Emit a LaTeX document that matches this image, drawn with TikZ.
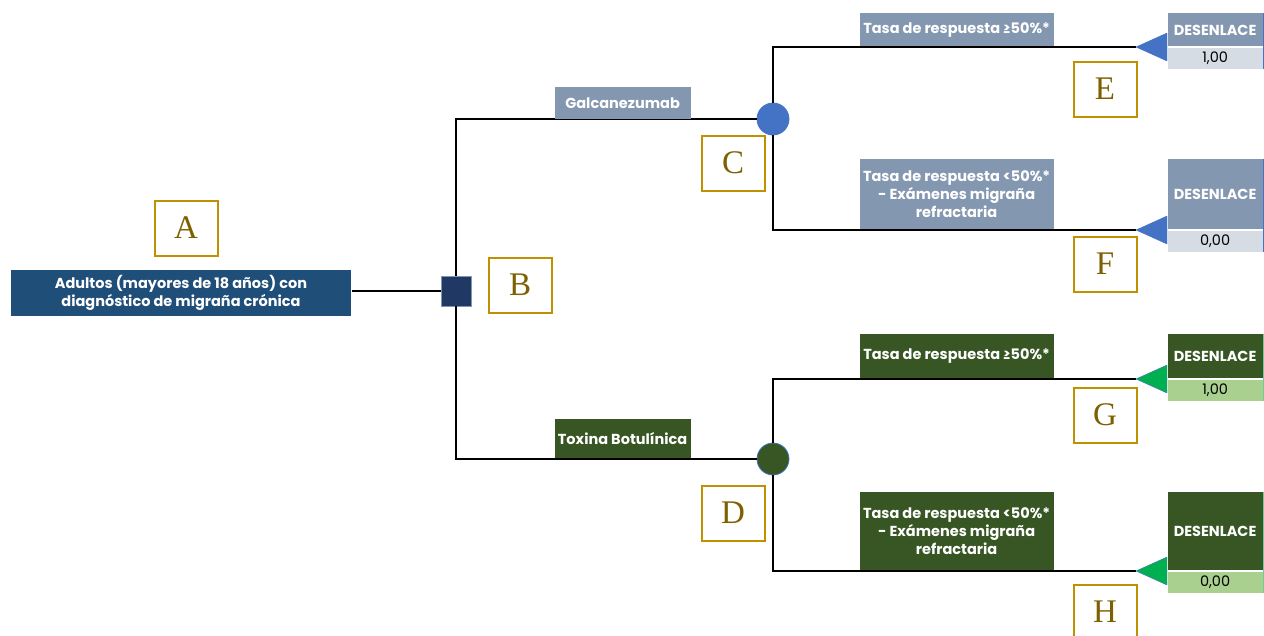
\documentclass[tikz,border=0pt]{standalone}
\usepackage{fontspec}
\setmainfont{Poppins}
\newfontfamily\letfont{Liberation Serif}
\usetikzlibrary{positioning,calc}
\definecolor{adultblue}{HTML}{1F4E79}
\definecolor{decblue}{HTML}{203864}
\definecolor{galc}{HTML}{8497B0}
\definecolor{galcval}{HTML}{D6DCE4}
\definecolor{cblue}{HTML}{4472C4}
\definecolor{toxgreen}{HTML}{375623}
\definecolor{toxval}{HTML}{A9D08E}
\definecolor{trigreen}{HTML}{00B050}
\definecolor{goldline}{HTML}{BF9000}
\definecolor{goldtext}{HTML}{7F6000}

\begin{document}
\begin{tikzpicture}[x=1pt, y=-1pt, line width=1.2pt, font=\bfseries\fontsize{14.5}{18}\selectfont]
			\tikzstyle{every node}=[inner sep=0pt, text=white, align=center]
			\tikzstyle{adultbox}=[fill=adultblue, minimum width=340pt, minimum height=46pt]
			\tikzstyle{galcbox}=[fill=galc, minimum width=194pt]
			\tikzstyle{toxbox}=[fill=toxgreen, minimum width=194pt]
			\tikzstyle{outbox}=[minimum width=95pt, anchor=south west]
			\tikzstyle{valbox}=[minimum width=95pt, minimum height=21pt, text=black,
			font=\mdseries\fontsize{14.5}{16}\selectfont]
			\tikzstyle{chance}=[circle, minimum size=32pt, draw=cblue, line width=0.8pt]
			\tikzstyle{letterbox}=[draw=goldline, line width=2pt, fill=white,
			minimum width=63pt, minimum height=55pt, text=goldtext,
			font=\letfont\fontsize{33}{33}\selectfont]

			\useasboundingbox (0,0) rectangle (1264,635);

			% root and decision
			\node[adultbox] (adult) at (181,293) {Adultos (mayores de 18 años) con\\diagnóstico de migraña crónica};
			\node[fill=decblue, draw=galc, line width=0.8pt, minimum size=30pt] (dec) at (456,291) {};
			\node[chance, fill=cblue] (cg) at (773,119) {};
			\node[chance, fill=toxgreen] (ct) at (773,459) {};

			% outcomes
			\node[outbox, fill=galc, minimum height=33pt] (o1) at (1167,47) {DESENLACE};
			\node[valbox, fill=galcval, below=0pt of o1] (v1) {1,00};
			\node[outbox, fill=galc, minimum height=70pt] (o2) at (1167,230) {DESENLACE};
			\node[valbox, fill=galcval, below=0pt of o2] (v2) {0,00};
			\node[outbox, fill=toxgreen, minimum height=44pt] (o3) at (1167,379) {DESENLACE};
			\node[valbox, fill=toxval, below=0pt of o3] (v3) {1,00};
			\node[outbox, fill=toxgreen, minimum height=78pt] (o4) at (1167,571) {DESENLACE};
			\node[valbox, fill=toxval, below=0pt of o4] (v4) {0,00};
			\draw[cblue] (o1.north east) -- (v1.south east) (o2.north east) -- (v2.south east);
			\draw[trigreen!60] (o3.north east) -- (v3.south east) (o4.north east) -- (v4.south east);

			% terminal triangles
			\filldraw[fill=cblue, draw=cblue, thin] (o1.south west) ++(0,-14) -- ++(-31,14) coordinate (t1) -- ++(31,14) -- cycle;
			\filldraw[fill=cblue, draw=cblue, thin] (o2.south west) ++(0,-14) -- ++(-31,14) coordinate (t2) -- ++(31,14) -- cycle;
			\filldraw[fill=trigreen, draw=cblue, thin] (o3.south west) ++(0,-14) -- ++(-31,14) coordinate (t3) -- ++(31,14) -- cycle;
			\filldraw[fill=trigreen, draw=cblue, thin] (o4.south west) ++(0,-14) -- ++(-31,14) coordinate (t4) -- ++(31,14) -- cycle;

			% branches
			\draw (dec) -- (dec -| adult.east);
			\draw (dec) |- (cg);
			\draw (dec) |- (ct);
			\draw (cg) |- (t1);
			\draw (cg) |- (t2);
			\draw (ct) |- (t3);
			\draw (ct) |- (t4);

			% branch labels
			\node[galcbox, minimum width=136pt, minimum height=32pt, anchor=south west] (lg) at (554,120) {Galcanezumab};
			\node[toxbox, minimum width=136pt, minimum height=39pt, anchor=south west] (lt) at (554,459) {Toxina Botulínica};
			\node[galcbox, minimum height=33pt, anchor=south west] (b1) at (859,47) {Tasa de respuesta ≥50\%*};
			\node[galcbox, minimum height=70pt, anchor=south west] (b2) at (859,230) {Tasa de respuesta <50\%*\\- Exámenes migraña\\refractaria};
			\node[toxbox, minimum height=44pt, anchor=south west] (b3) at (859,379) {Tasa de respuesta ≥50\%*};
			\node[toxbox, minimum height=78pt, anchor=south west] (b4) at (859,571) {Tasa de respuesta <50\%*\\- Exámenes migraña\\refractaria};

			% letters
			\node[letterbox] (la) at (186,228) {A};
			\node[letterbox] (lb) at (520,285) {B};
			\node[letterbox] (lc) at (733,163) {C};
			\node[letterbox] (ld) at (733,513) {D};
			\node[letterbox] (le) at (1105,89) {E};
			\node[letterbox] (lf) at (1105,264) {F};
			\node[letterbox] (lg2) at (1105,415) {G};
			\node[letterbox] (lh) at (1105,612) {H};
		\end{tikzpicture}
\end{document}
